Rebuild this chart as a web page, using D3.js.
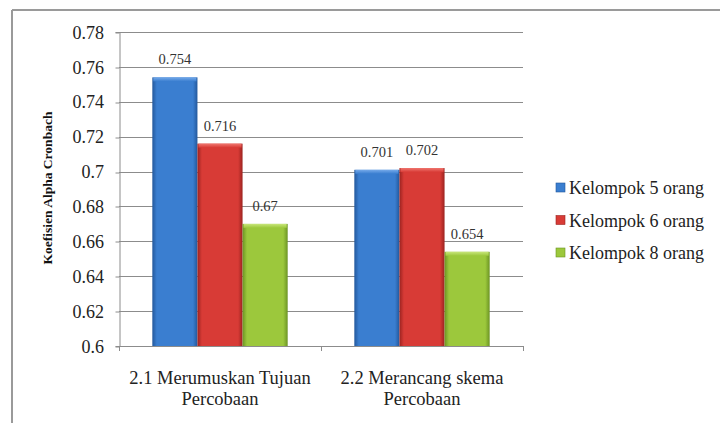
<!DOCTYPE html>
<html>
<head>
<meta charset="utf-8">
<script src="https://cdn.jsdelivr.net/npm/d3@7/dist/d3.min.js"></script>
<style>
  html, body { margin: 0; padding: 0; background: #fff; }
</style>
</head>
<body>
<svg id="chart" width="720" height="423"></svg>
<script>
// Cronbach alpha by group size, for two activities
const categories = ["2.1 Merumuskan Tujuan|Percobaan", "2.2 Merancang skema|Percobaan"];
const seriesNames = ["Kelompok 5 orang", "Kelompok 6 orang", "Kelompok 8 orang"];
const kelompok5 = [0.754, 0.701];
const kelompok6 = [0.716, 0.702];
const kelompok8 = [0.670, 0.654];
const valueLabels5 = ["0.754", "0.701"];
const valueLabels6 = ["0.716", "0.702"];
const valueLabels8 = ["0.67", "0.654"];
const yTicks = [0.6, 0.62, 0.64, 0.66, 0.68, 0.7, 0.72, 0.74, 0.76, 0.78];
const yTickLabels = ["0.6", "0.62", "0.64", "0.66", "0.68", "0.7", "0.72", "0.74", "0.76", "0.78"];

const FONT = "'Liberation Serif', 'Times New Roman', Times, serif";

const series = [
  { name: seriesNames[0], values: kelompok5, labels: valueLabels5, base: "#3a7ed0", light: "#76aaea", dark: "#23589c" },
  { name: seriesNames[1], values: kelompok6, labels: valueLabels6, base: "#d83b36", light: "#f0766f", dark: "#9c2320" },
  { name: seriesNames[2], values: kelompok8, labels: valueLabels8, base: "#9cc83c", light: "#c8e67a", dark: "#6c9424" }
];

const svg = d3.select("#chart");
const plot = { left: 119, right: 523, top: 32, bottom: 346 };

const x0 = d3.scaleBand().domain(d3.range(categories.length))
  .range([plot.left, plot.right]).paddingInner(0).paddingOuter(0);
const groupPad = 0.33;
const y = d3.scaleLinear().domain([0.6, 0.78]).range([plot.bottom, plot.top]);

// frame lines along top and left
svg.append("line").attr("x1", 12).attr("x2", 720).attr("y1", 10).attr("y2", 10)
  .attr("stroke", "#9a9a9a").attr("stroke-width", 2);
svg.append("line").attr("x1", 12).attr("x2", 12).attr("y1", 10).attr("y2", 423)
  .attr("stroke", "#9a9a9a").attr("stroke-width", 2);

// gradients for the bevelled bars
const defs = svg.append("defs");
series.forEach((s, i) => {
  const g = defs.append("linearGradient").attr("id", "grad" + i)
    .attr("x1", "0%").attr("x2", "100%").attr("y1", "0%").attr("y2", "0%");
  g.append("stop").attr("offset", "0%").attr("stop-color", s.dark);
  g.append("stop").attr("offset", "10%").attr("stop-color", s.base);
  g.append("stop").attr("offset", "90%").attr("stop-color", s.base);
  g.append("stop").attr("offset", "100%").attr("stop-color", s.dark);
  const t = defs.append("linearGradient").attr("id", "top" + i)
    .attr("x1", "0%").attr("x2", "0%").attr("y1", "0%").attr("y2", "100%");
  t.append("stop").attr("offset", "0%").attr("stop-color", s.light);
  t.append("stop").attr("offset", "100%").attr("stop-color", s.base);
});

// horizontal gridlines
svg.append("g").selectAll("line").data(yTicks.slice(1)).join("line")
  .attr("x1", plot.left).attr("x2", plot.right)
  .attr("y1", d => Math.round(y(d)) + 0.5).attr("y2", d => Math.round(y(d)) + 0.5)
  .attr("stroke", "#8c8c8c").attr("stroke-width", 1);

// y axis
const yAxis = d3.axisLeft(y).tickValues(yTicks)
  .tickFormat((d, i) => yTickLabels[i]).tickSize(4).tickPadding(11.5);
const gy = svg.append("g").attr("transform", `translate(${plot.left + 0.5},0)`).call(yAxis);
gy.select(".domain").attr("stroke", "#8c8c8c");
gy.selectAll(".tick line").attr("stroke", "#8c8c8c")
  .attr("transform", function(d) { return `translate(0,${Math.round(y(d)) + 0.5 - y(d)})`; });
gy.selectAll(".tick text").style("font-family", FONT).style("font-size", "18px")
  .attr("fill", "#222").attr("dy", "0.34em");

// bars
const bandW = x0.bandwidth();
const inner = d3.scaleBand().domain(d3.range(series.length))
  .range([bandW * groupPad / 2, bandW - bandW * groupPad / 2]);

const groups = svg.append("g").selectAll("g").data(categories).join("g")
  .attr("transform", (d, i) => `translate(${x0(i)},0)`);

series.forEach((s, si) => {
  groups.each(function(c, ci) {
    const g = d3.select(this);
    const bx = inner(si), bw = inner.bandwidth();
    const top = y(s.values[ci]);
    g.append("rect").attr("x", bx).attr("y", top).attr("width", bw)
      .attr("height", plot.bottom - top).attr("fill", `url(#grad${si})`);
    g.append("rect").attr("x", bx + 1).attr("y", top).attr("width", bw - 2)
      .attr("height", 4).attr("fill", `url(#top${si})`);
    g.append("text").attr("x", bx + bw / 2).attr("y", top - 13)
      .attr("text-anchor", "middle").attr("fill", "#333")
      .style("font-family", FONT).style("font-size", "14.5px")
      .text(s.labels[ci]);
  });
});

// x axis baseline and ticks
svg.append("line").attr("x1", plot.left).attr("x2", plot.right)
  .attr("y1", plot.bottom + 0.5).attr("y2", plot.bottom + 0.5).attr("stroke", "#8c8c8c");
const xTickPos = [plot.left, ...d3.range(categories.length).map(i => x0(i) + bandW)];
svg.append("g").selectAll("line").data(xTickPos).join("line")
  .attr("x1", d => d + 0.5).attr("x2", d => d + 0.5)
  .attr("y1", plot.bottom).attr("y2", plot.bottom + 5).attr("stroke", "#8c8c8c");

// category labels (two lines)
svg.append("g").selectAll("text").data(categories).join("text")
  .attr("text-anchor", "middle").attr("fill", "#222")
  .style("font-family", FONT).style("font-size", "18.5px")
  .attr("x", (d, i) => x0(i) + bandW / 2)
  .each(function(d) {
    const lines = d.split("|");
    d3.select(this).selectAll("tspan").data(lines).join("tspan")
      .attr("x", d3.select(this).attr("x"))
      .attr("y", (l, k) => 384 + k * 21)
      .text(l => l);
  });

// y axis title
svg.append("text")
  .attr("transform", `translate(52,${(plot.top + plot.bottom) / 2 - 1}) rotate(-90)`)
  .attr("text-anchor", "middle").attr("font-weight", "bold").attr("fill", "#111")
  .style("font-family", FONT).style("font-size", "13.5px")
  .text("Koefisien Alpha Cronbach");

// legend
const legend = svg.append("g").attr("transform", "translate(556,194)");
series.forEach((s, i) => {
  const row = legend.append("g").attr("transform", `translate(0,${i * 32.5})`);
  row.append("rect").attr("x", 0).attr("y", -11).attr("width", 9).attr("height", 9)
    .attr("fill", s.base).attr("stroke", s.dark).attr("stroke-width", 0.6);
  row.append("text").attr("x", 13).attr("y", 0).attr("fill", "#222")
    .style("font-family", FONT).style("font-size", "18px")
    .text(s.name);
});
</script>
</body>
</html>
